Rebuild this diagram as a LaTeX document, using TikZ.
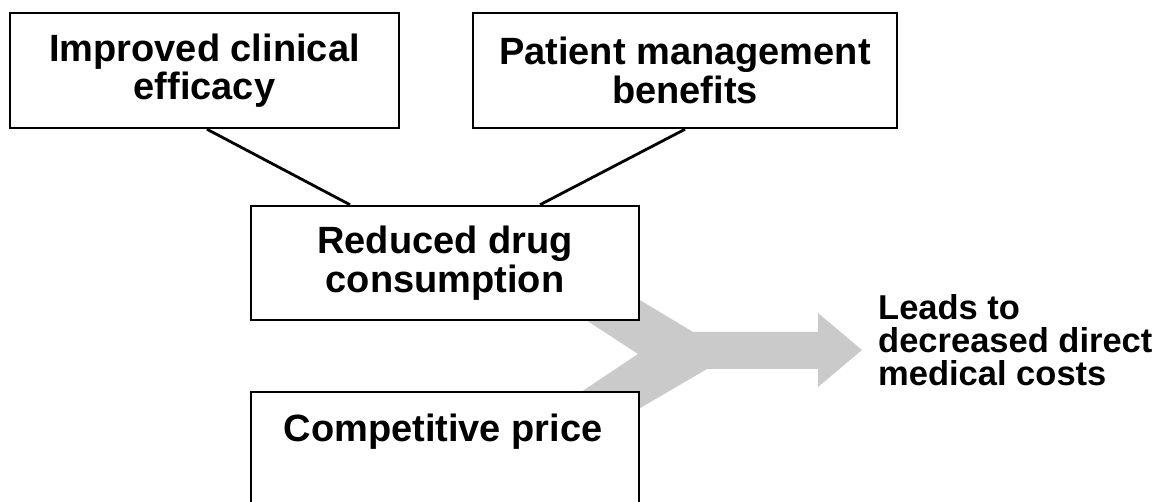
\documentclass[tikz,border=0pt]{standalone}
\usepackage{fontspec}
\setmainfont{Liberation Sans}
\definecolor{arrowgray}{RGB}{202,202,202}
\tikzset{
  box/.style={draw=black, line width=2.5pt, fill=white, inner sep=0pt, align=center,
    font=\fontsize{38}{38.5}\selectfont\bfseries},
  boxtext/.style={inner sep=0pt, align=center, font=\fontsize{38}{38.5}\selectfont\bfseries},
  conn/.style={draw=black, line width=2.8pt},
  sidetext/.style={inner sep=0pt, align=left, font=\fontsize{34.5}{33}\selectfont\bfseries}
}
\begin{document}
\begin{tikzpicture}[x=1pt,y=-1pt]
\useasboundingbox (0,0) rectangle (1165,502);
\clip (0,0) rectangle (1165,502);
% big grey merging arrow
\fill[arrowgray] (560,252) -- (693,332) -- (818,332) -- (818,313) -- (862,350)
  -- (818,387) -- (818,369) -- (707,369) -- (560,455) -- (560,406)
  -- (638,354) -- (560,303) -- cycle;
% boxes
\node[box, minimum width=389pt, minimum height=115pt] (improved) at (204.5,70.5)
  {Improved clinical\\efficacy};
\node[box, minimum width=424pt, minimum height=115pt] (patient) at (685,70.5)
  {Patient management\\benefits};
\node[box, minimum width=388pt, minimum height=114pt] (reduced) at (445,263)
  {Reduced drug\\consumption};
\node[box, minimum width=388pt, minimum height=149pt, anchor=north] (price) at (445,391) {};
\node[boxtext, anchor=base] (pricetext) at (443,442) {Competitive price};
% connectors
\draw[conn] ([xshift=2.5pt]improved.south) -- ([xshift=-95pt]reduced.north);
\draw[conn] (patient.south) -- ([xshift=95pt]reduced.north);
% result text
\node[sidetext, anchor=west] (leads) at (878,340) {Leads to\\decreased direct\\medical costs};
\end{tikzpicture}
\end{document}
